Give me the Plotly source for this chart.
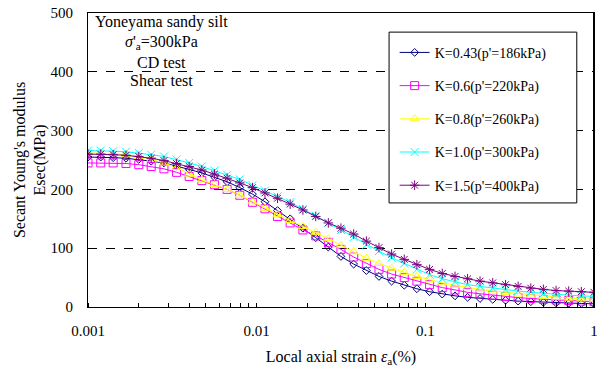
import plotly.graph_objects as go

strain = [0.001, 0.00119, 0.00141, 0.00168, 0.002, 0.00237, 0.00282, 0.00335, 0.00398, 0.00473,
          0.00562, 0.00668, 0.00794, 0.00944, 0.0112, 0.0133, 0.0158, 0.0188, 0.0224, 0.0266,
          0.0316, 0.0376, 0.0447, 0.0531, 0.0631, 0.075, 0.0891, 0.106, 0.126, 0.150,
          0.178, 0.211, 0.251, 0.299, 0.355, 0.422, 0.501, 0.596, 0.708, 0.841, 1.0]

e_k043 = [255, 255, 254, 253, 251, 248, 245, 240, 234, 228, 221, 213, 203, 192, 179, 164, 150, 134, 118, 102,
          86, 73, 62, 52, 44, 37, 31, 26, 22, 19, 16.5, 14.5, 13, 11.5, 10, 9, 8, 7, 6.5, 6, 5.5]
e_k06 = [245, 245, 245, 244, 242, 239, 235, 229, 222, 215, 208, 200, 190, 178, 167, 154, 143, 131, 121, 110,
         98, 85, 74, 64, 56, 50, 44, 38, 33, 29, 25, 22.5, 20, 18, 16, 14.5, 13, 12, 11, 10, 9]
e_k08 = [262, 262, 261, 259, 256, 251, 245, 237, 226, 216, 208, 200, 190, 179, 168, 157, 147, 137, 127, 116,
         105, 94, 83, 74, 66, 59, 52, 46, 41, 37, 33, 30, 27, 25, 22, 20, 18, 16.5, 15, 14, 13]
e_k10 = [266, 266, 265, 264, 262, 259, 256, 251, 245, 239, 232, 225, 217, 207, 198, 188, 178, 167, 155, 143,
         131, 119, 106, 95, 84, 74, 64, 55, 48, 43, 38, 35, 32, 29, 27, 25, 23, 21.5, 20, 19, 18]
e_k15 = [260, 260, 259, 258, 256, 253, 249, 244, 239, 233, 226, 219, 211, 203, 194, 185, 175, 165, 154, 143,
         134, 124, 112, 101, 90, 81, 72, 64, 57, 52, 48, 44, 41, 38, 35, 32, 30, 28, 27, 26, 25]

names = ["K=0.43(p'=186kPa)", "K=0.6(p'=220kPa)", "K=0.8(p'=260kPa)",
         "K=1.0(p'=300kPa)", "K=1.5(p'=400kPa)"]
series = [e_k043, e_k06, e_k08, e_k10, e_k15]
colors = ["#000080", "#FF00FF", "#FFFF00", "#00FFFF", "#800080"]
symbols = ["diamond-open", "square-open", "triangle-up-open", "x-thin-open", "asterisk-open"]
sizes = [6, 8, 8, 8, 8]

x_ticks = [0.001, 0.01, 0.1, 1]
x_ticklabels = ["0.001", "0.01", "0.1", "1"]
y_ticks = [0, 100, 200, 300, 400, 500]

FONT = "Liberation Serif"

fig = go.Figure()
for i, (nm, ys) in enumerate(zip(names, series)):
    fig.add_trace(go.Scatter(
        x=strain, y=ys, name=nm, mode="lines+markers", legendgroup=f"g{i}",
        line=dict(color=colors[i], width=1),
        marker=dict(symbol=symbols[i], size=sizes[i], color=colors[i],
                    line=dict(color=colors[i], width=1)),
    ))

fig.update_layout(
    width=600, height=367,
    margin=dict(l=88, r=6, t=13, b=60),
    paper_bgcolor="white", plot_bgcolor="white",
    font=dict(family=FONT, size=14, color="black"),
    showlegend=True,
    legend=dict(
        x=0.606, y=0.919, xanchor="left", yanchor="top",
        borderwidth=0, bgcolor="rgba(0,0,0,0)",
        font=dict(family=FONT, size=14, color="black"),
        tracegroupgap=12, itemwidth=30,
    ),
    xaxis=dict(
        type="log", range=[-3, 0], automargin=False,
        tickvals=x_ticks, ticktext=x_ticklabels,
        showgrid=False, zeroline=False,
        showline=True, linecolor="black", linewidth=1, mirror=True,
        ticks="", ticklabelstandoff=10,
        minor=dict(ticks="inside", ticklen=4, tickcolor="black", showgrid=False,
                   dtick="D1"),
        title=dict(text="Local axial strain <i>ε</i><sub>a</sub>(%)", standoff=12,
                   font=dict(family=FONT, size=16)),
        tickfont=dict(family=FONT, size=15),
    ),
    yaxis=dict(
        range=[0, 500], tickvals=y_ticks, automargin=False,
        showgrid=True, gridcolor="black", gridwidth=1, griddash="dash",
        zeroline=False,
        showline=True, linecolor="black", linewidth=1, mirror=True,
        ticks="", ticklabelstandoff=11,
        title=dict(text="Secant Young's modulus<br>Esec(MPa)", standoff=0,
                   font=dict(family=FONT, size=16)),
        tickfont=dict(family=FONT, size=15),
    ),
)

# legend frame (white box covering gridlines)
fig.add_shape(type="rect", xref="paper", yref="paper", x0=0.595, x1=0.966, y0=0.354, y1=0.935,
              fillcolor="white", line=dict(color="black", width=1), layer="above")

# thicker right frame edge
fig.add_shape(type="line", xref="paper", yref="paper", x0=1, x1=1, y0=0, y1=1,
              line=dict(color="black", width=2))

labels = ["Yoneyama sandy silt", "<i>σ</i>'<sub>a</sub>=300kPa", "CD test", "Shear test"]
ypos = [0.969, 0.901, 0.833, 0.772]
for t, yy in zip(labels, ypos):
    fig.add_annotation(text=t, xref="paper", yref="paper", x=0.146, y=yy,
                       xanchor="center", yanchor="middle", showarrow=False,
                       font=dict(family=FONT, size=16, color="black"))

fig.write_html("out.html")
